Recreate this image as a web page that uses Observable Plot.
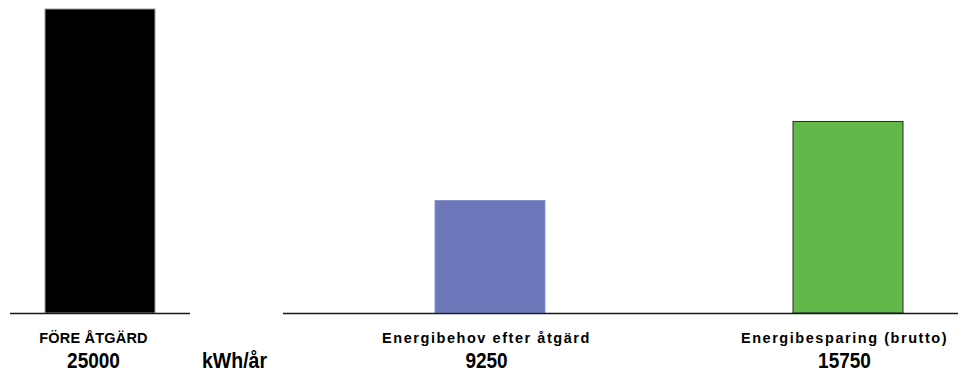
<!DOCTYPE html>
<html>
<head>
<meta charset="utf-8">
<script src="https://cdn.jsdelivr.net/npm/d3@7"></script>
<script src="https://cdn.jsdelivr.net/npm/@observablehq/plot@0.6"></script>
<style>
  html, body { margin: 0; padding: 0; background: #fff; }
  #wrap { position: relative; width: 967px; height: 374px; overflow: hidden; font-family: "Liberation Sans", Arial, sans-serif; }
  #left, #right { position: absolute; top: 0; }
  #left { left: 0; }
  #right { left: 190px; }
  svg { overflow: visible; }
</style>
</head>
<body>
<div id="wrap"><div id="left"></div><div id="right"></div></div>
<script>
const categories = ["FÖRE ÅTGÄRD", "Energibehov efter åtgärd", "Energibesparing (brutto)"];
const values = [25000, 9250, 15750];
const fills = ["#000000", "#6b77b9", "#62b94a"];
const strokes = ["#9a9a9a", "#8a93cc", "#2a2a2a"];
const unitLabel = "kWh/år";
const yMax = 25000;

const rows = categories.map((c, i) => ({cat: c, value: values[i], fill: fills[i], stroke: strokes[i], label: String(values[i])}));
const leftRows = rows.slice(0, 1);
const rightRows = rows.slice(1);

const font = "Liberation Sans, Arial, sans-serif";

function marks(data, dx, extra) {
  return [
    Plot.barY(data, {x: "cat", y: "value", fill: "fill", stroke: "stroke", strokeWidth: 1, inset: 0}),
    Plot.ruleY([0], {stroke: "#1a1a1a", strokeWidth: 1.6}),
    Plot.text(data, {x: "cat", y: () => 0, text: "cat", dy: 29, dx, lineAnchor: "bottom", textAnchor: "middle", fontSize: 14.5, fontWeight: "bold", fill: "#000"}),
    Plot.text(data, {x: "cat", y: () => 0, text: "label", dy: 54, dx, lineAnchor: "bottom", textAnchor: "middle", fontSize: 19, fontWeight: "bold", fill: "#000"}),
    ...(extra || [])
  ];
}

const common = {
  height: 374,
  marginTop: 9,
  marginBottom: 61,
  y: {domain: [0, yMax], axis: null},
  color: {type: "identity"},
  style: {fontFamily: font, background: "transparent", overflow: "visible"}
};

const left = Plot.plot({
  ...common,
  width: 200,
  marginLeft: 10,
  marginRight: 10,
  x: {domain: leftRows.map(d => d.cat), paddingInner: 0, paddingOuter: 0.318, axis: null},
  marks: marks(leftRows, -7)
});

const right = Plot.plot({
  ...common,
  width: 777,
  marginLeft: 93,
  marginRight: 9,
  x: {domain: rightRows.map(d => d.cat), paddingInner: 0.693, paddingOuter: 0.289, align: 0.734, axis: null},
  marks: marks(rightRows, -4, [
    Plot.text([unitLabel], {frameAnchor: "bottom-left", text: d => d, dx: -49, dy: 54, lineAnchor: "bottom", textAnchor: "middle", fontSize: 19.5, fontWeight: "bold", fill: "#000"})
  ])
});

// widen the lowercase category labels to match the reference's rendering
d3.select(right).selectAll("text")
  .filter(function() { return rightRows.some(r => r.cat === this.textContent); })
  .style("letter-spacing", "1.55px");
d3.select(left).selectAll("text")
  .filter(function() { return leftRows.some(r => r.cat === this.textContent); })
  .style("letter-spacing", "0.2px");

// the reference's value digits and unit are drawn slightly taller than wide
const tallTexts = new Set([...rows.map(r => r.label), unitLabel]);
[left, right].forEach(svg => {
  d3.select(svg).selectAll("text")
    .filter(function() { return tallTexts.has(this.textContent); })
    .attr("transform", function() {
      const t = this.getAttribute("transform") || "";
      return (t + " scale(1,1.17)").trim();
    });
});

document.getElementById("left").appendChild(left);
document.getElementById("right").appendChild(right);
</script>
</body>
</html>
